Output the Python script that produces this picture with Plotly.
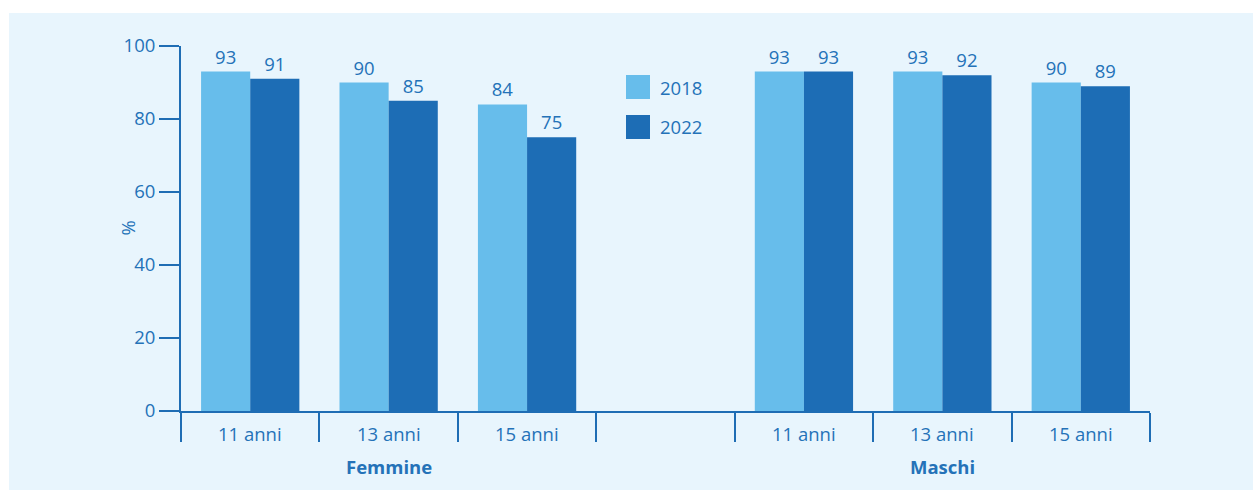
import plotly.graph_objects as go

# ---- data ----
groups = ["Femmine", "Maschi"]
ages = ["11 anni", "13 anni", "15 anni"]
years = ["2018", "2022"]
femmine_2018 = [93, 90, 84]
femmine_2022 = [91, 85, 75]
maschi_2018 = [93, 93, 90]
maschi_2022 = [93, 92, 89]
y_ticks = [0, 20, 40, 60, 80, 100]

# ---- style ----
LIGHT = "#67BDEB"
DARK = "#1D6DB5"
AXIS = "#1F6DB4"
TEXT = "#2472B8"
BG = "#E8F5FD"
FONT = "Open Sans"
FS = 18.5

# slot positions: 3 Femmine slots, an empty gap slot, 3 Maschi slots
n_age = len(ages)
x_f = list(range(n_age))
x_m = [n_age + 1 + i for i in range(n_age)]
x_all = x_f + x_m
n_slots = 2 * n_age + 1

series = {
    "2018": (femmine_2018 + maschi_2018, LIGHT),
    "2022": (femmine_2022 + maschi_2022, DARK),
}

fig = go.Figure()
for name in years:
    vals, col = series[name]
    fig.add_trace(go.Bar(
        x=x_all, y=vals, name=name,
        marker=dict(color=col, line=dict(width=0)),
        text=[str(v) for v in vals], textposition="outside",
        textfont=dict(family=FONT, size=FS, color=TEXT),
        cliponaxis=False, showlegend=False, hoverinfo="skip",
    ))

boundaries = [i - 0.5 for i in range(n_slots + 1)]

fig.update_layout(
    width=1253, height=491,
    margin=dict(l=181, r=103, t=46, b=80),
    paper_bgcolor="white",
    plot_bgcolor="rgba(0,0,0,0)",
    barmode="group", bargap=0.29, bargroupgap=0,
    font=dict(family=FONT, size=FS, color=TEXT),
    xaxis=dict(
        range=[-0.5, n_slots - 0.5], tickmode="array", tickvals=boundaries,
        showticklabels=False, ticks="outside", ticklen=29, tickwidth=2,
        tickcolor=AXIS, showline=True, linecolor=AXIS, linewidth=2,
        showgrid=False, zeroline=False, fixedrange=True,
    ),
    yaxis=dict(
        range=[0, 100], tickmode="array", tickvals=y_ticks,
        ticks="outside", ticklen=20, tickwidth=2, tickcolor=AXIS,
        showline=True, linecolor=AXIS, linewidth=2, showgrid=False,
        zeroline=False, tickfont=dict(family=FONT, size=FS, color=TEXT),
        fixedrange=True,
    ),
)

# background panel
fig.add_shape(type="rect", xref="paper", yref="paper",
              x0=(9 - 181) / 969, x1=(1253 - 181) / 969,
              y0=(411 - 490) / 365, y1=(411 - 13) / 365,
              fillcolor=BG, line=dict(width=0), layer="below")

# category labels
for xs in (x_f, x_m):
    for x, a in zip(xs, ages):
        fig.add_annotation(x=x, y=0, xref="x", yref="paper", text=a,
                           showarrow=False, yanchor="middle", yshift=-22,
                           font=dict(family=FONT, size=FS, color=TEXT))
# group labels (under middle category)
for xs, g in zip((x_f, x_m), groups):
    fig.add_annotation(x=xs[len(xs) // 2], y=0, xref="x", yref="paper",
                       text="<b>%s</b>" % g, showarrow=False,
                       yanchor="middle", yshift=-55,
                       font=dict(family=FONT, size=FS, color=TEXT))

# y title
fig.add_annotation(x=(127 - 181) / 969, y=0.5, xref="paper", yref="paper",
                   text="%", textangle=-90, showarrow=False,
                   xanchor="center", yanchor="middle",
                   font=dict(family=FONT, size=FS, color=TEXT))

# custom legend
leg_tops = [75, 115]
for name, top in zip(years, leg_tops):
    col = series[name][1]
    fig.add_shape(type="rect", xref="paper", yref="paper",
                  x0=(626 - 181) / 969, x1=(650 - 181) / 969,
                  y0=(411 - top - 24) / 365, y1=(411 - top) / 365,
                  fillcolor=col, line=dict(width=0))
    fig.add_annotation(x=(658 - 181) / 969, y=(411 - top - 12) / 365,
                       xref="paper", yref="paper", text=name,
                       showarrow=False, xanchor="left", yanchor="middle",
                       font=dict(family=FONT, size=FS, color=TEXT))

fig.write_html("out.html",
               config={"displayModeBar": False, "staticPlot": True},
               post_script="document.body.style.margin='0';"
                           "document.body.style.overflow='hidden';")
